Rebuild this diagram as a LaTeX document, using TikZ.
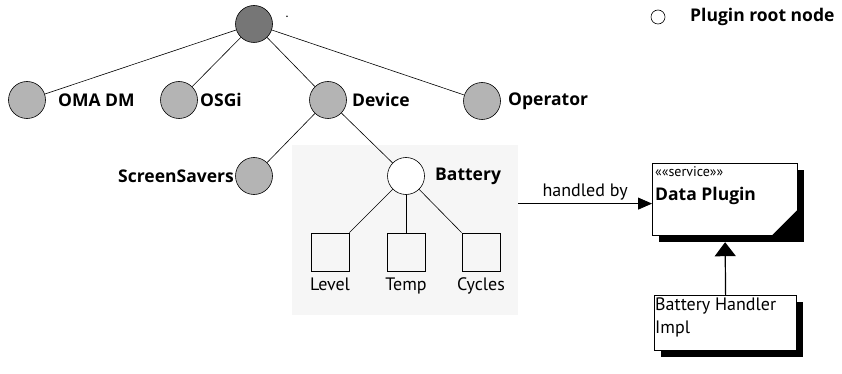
\documentclass[tikz,border=0pt]{standalone}
\usepackage{fontspec}
\setmainfont{PT Sans}
\newfontfamily\labelfont{Open Sans}
\usetikzlibrary{arrows.meta,positioning,shadows}
\definecolor{nodegrey}{RGB}{180,180,180}
\definecolor{rootgrey}{RGB}{118,118,118}
\definecolor{panelgrey}{RGB}{246,246,246}

\begin{document}
\begin{tikzpicture}[x=1pt,y=-1pt,
    treenode/.style={circle,draw,semithick,fill=nodegrey,minimum size=37pt,inner sep=0pt},
    leafbox/.style={draw,thick,minimum size=38pt,inner sep=0pt},
    tag/.style={font=\labelfont\bfseries\fontsize{17.5}{21}\selectfont,inner sep=0pt},
    plain/.style={font=\fontsize{18}{23}\selectfont,inner sep=0pt},
    classbox/.style={draw,very thick,fill=white,anchor=north west,
      general shadow={fill=black,shadow xshift=6pt,shadow yshift=-6pt}}]
    \useasboundingbox (0,0) rectangle (842,374);

    % tree of plugin nodes
    \node[treenode, fill=rootgrey] (root) at (254,24) {};
    \node[font=\bfseries] (dot) at (287,17) {.};
    \node[treenode] (omadm) at (27,100) {};
    \node[treenode] (osgi) at (179,100) {};
    \node[treenode] (device) at (328,100) {};
    \node[treenode] (operator) at (482,101) {};
    \node[tag, anchor=west] (omadmlbl) at (58,100) {OMA DM};
    \node[tag, anchor=west] (osgilbl) at (200,100) {OSGi};
    \node[tag, anchor=west] (devicelbl) at (352,100) {Device};
    \node[tag, anchor=west] (operatorlbl) at (508,101) {Operator};
    \foreach \c in {omadm,osgi,device,operator} {\draw[semithick] (root) -- (\c);}

    % battery sub tree
    \node[fill=panelgrey, minimum width=226pt, minimum height=170pt, inner sep=0pt] (panel) at (405,230) {};
    \node[treenode] (screensavers) at (254,176) {};
    \node[treenode, fill=white] (battery) at (406,176) {};
    \node[tag, anchor=east] (screenlbl) at (234,176) {ScreenSavers};
    \node[tag, anchor=west] (batterylbl) at (435,176) {Battery};
    \draw[semithick] (device) -- (screensavers);
    \draw[semithick] (device) -- (battery);

    \node[leafbox] (level) at (330,252) {};
    \node[leafbox] (temp) at (406,252) {};
    \node[leafbox] (cycles) at (481,252) {};
    \node[plain, below=6pt of level] (levellbl) {Level};
    \node[plain, below=6pt of temp] (templbl) {Temp};
    \node[plain, below=6pt of cycles] (cycleslbl) {Cycles};
    \draw[semithick] (battery) -- (level.north east);
    \draw[thick] (battery) -- (temp);
    \draw[semithick] (battery) -- (cycles.north west);

    % service side
    \node[classbox, minimum width=145pt, minimum height=72pt] (dataplugin) at (652,163) {};
    \fill (dataplugin.south east) -- ++(-27,0) -- ++(27,-27) -- cycle;
    \node[font=\fontsize{14}{16}\selectfont, inner sep=0pt, anchor=north west] (stereo) at (655,166)
        {\guillemotleft\guillemotleft service\guillemotright\guillemotright};
    \node[tag, anchor=north west] (dptext) at (655,187) {Data Plugin};
    \node[classbox, minimum width=142pt, minimum height=55pt] (handler) at (654,295) {};
    \node[plain, anchor=north west, align=left] (handlertext) at (655,298) {Battery Handler\\Impl};

    \draw[thick, -{Triangle[length=14pt,width=12pt]}] ([yshift=-4pt]panel.east |- dataplugin.west) -- ([yshift=-4pt]dataplugin.west)
        node[plain, midway, above=3pt] {handled by};
    \draw[very thick, -{Triangle[length=14pt,width=21pt]}] (handler.north) -- ([yshift=-6pt]dataplugin.south);

    % legend
    \node[circle, draw, semithick, minimum size=14pt, inner sep=0pt] (legend) at (658,17) {};
    \node[tag, anchor=west] (legendlbl) at (690,17) {Plugin root node};
\end{tikzpicture}
\end{document}
